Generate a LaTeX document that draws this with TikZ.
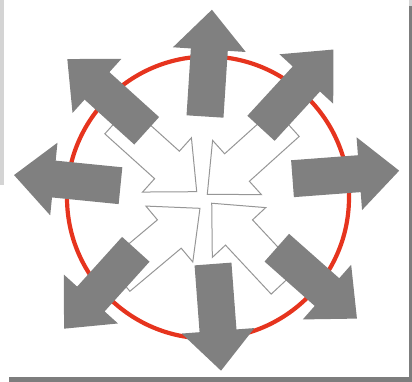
\documentclass[tikz,border=0pt]{standalone}
\usepackage{tikz}

\definecolor{arrowgrey}{RGB}{128,128,128}
\definecolor{linegrey}{RGB}{150,150,150}
\definecolor{ringred}{RGB}{230,52,30}
\definecolor{framedark}{RGB}{125,125,125}
\definecolor{framelight}{RGB}{212,212,212}

\tikzset{
    arrowshape/.pic={
        \path[pic actions] (0,-18.5) -- (67,-18.5) -- (67,-36.5) -- (107,0)
            -- (67,36.5) -- (67,18.5) -- (0,18.5) -- cycle;
    }
}

\begin{document}
\begin{tikzpicture}[
        x=1pt, y=1pt,
        outarrow/.style={fill=arrowgrey},
        inarrow/.style={fill=white, draw=linegrey, line width=1pt, line join=miter},
        ring/.style={draw=ringred, line width=4.2pt}
    ]
    \useasboundingbox (0,0) rectangle (412,382);

    % Frame edges
    \fill[framelight] (0,197) rectangle (3.5,382);
    \fill[framelight] (408.5,376) rectangle (412,382);
    \fill[framedark] (408.5,0) rectangle (412,376);
    \fill[framedark] (9,0) rectangle (412,4.5);

    % Red circle
    \draw[ring] (208,184.5) circle (141);

    % Inward arrows
    \pic[inarrow, rotate=-42] at (117.2,261.9) {arrowshape};
    \pic[inarrow, rotate=222] at (286.8,259.3) {arrowshape};
    \pic[inarrow, rotate=40] at (118,104.9) {arrowshape};
    \pic[inarrow, rotate=133] at (284.7,100.5) {arrowshape};

    % Top
    \pic[outarrow, rotate=86.3] at (205,265.5) {arrowshape};
    % Top right
    \pic[outarrow, rotate=47.4] at (261,253.7) {arrowshape};
    % Right
    \pic[outarrow, rotate=4.3] at (292.5,203.3) {arrowshape};
    % Bottom right
    \pic[outarrow, rotate=-41.5] at (276.8,134.3) {arrowshape};
    % Bottom
    \pic[outarrow, rotate=-85.7] at (213,118) {arrowshape};
    % Bottom left
    \pic[outarrow, rotate=227.9] at (135.8,132.7) {arrowshape};
    % Left
    \pic[outarrow, rotate=174.3] at (120.5,196.3) {arrowshape};
    % Top left
    \pic[outarrow, rotate=137.9] at (146.7,251.2) {arrowshape};

\end{tikzpicture}
\end{document}
